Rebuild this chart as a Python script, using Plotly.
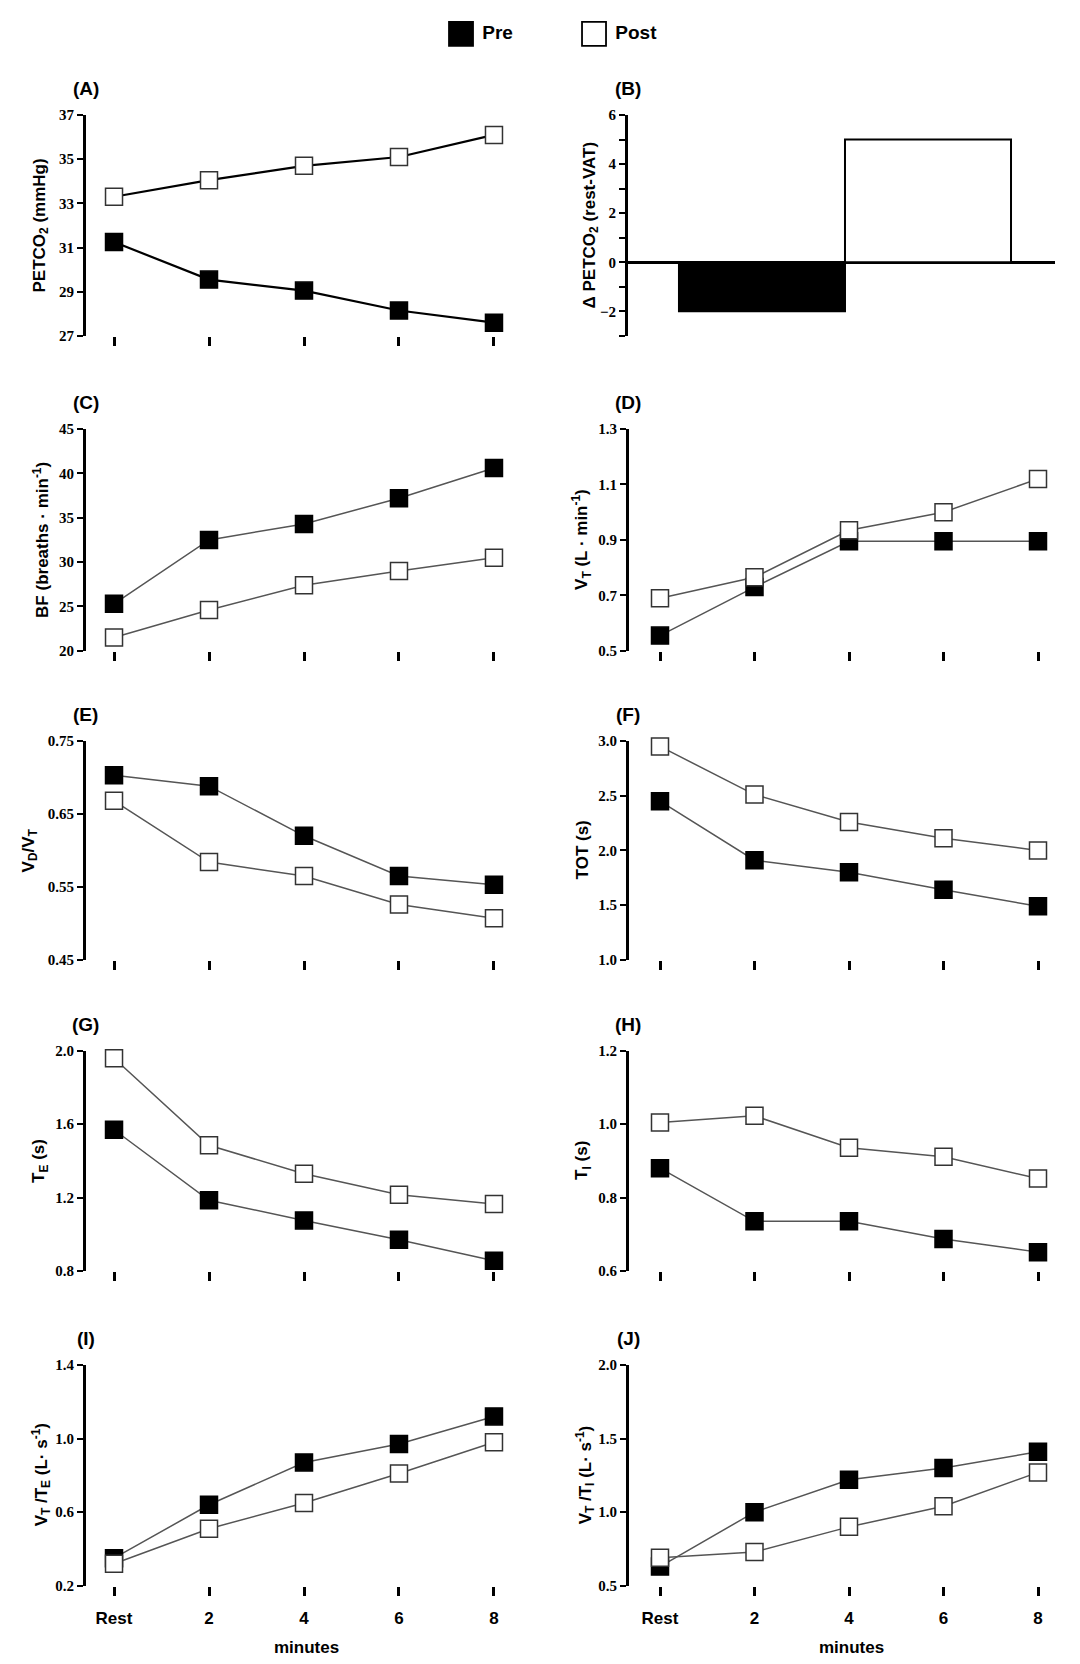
import plotly.graph_objects as go

# ---------------- data ----------------
categories = ["Rest", "2", "4", "6", "8"]
series_names = ["Pre", "Post"]

petco2_pre = [31.25, 29.55, 29.05, 28.15, 27.6]
petco2_post = [33.3, 34.05, 34.7, 35.1, 36.1]
delta_petco2 = [-2.0, 5.0]          # Pre, Post
bf_pre = [25.3, 32.5, 34.3, 37.2, 40.6]
bf_post = [21.5, 24.6, 27.4, 29.0, 30.5]
vt_pre = [0.555, 0.73, 0.895, 0.895, 0.895]
vt_post = [0.69, 0.765, 0.935, 1.0, 1.12]
vdvt_pre = [0.703, 0.688, 0.62, 0.565, 0.553]
vdvt_post = [0.668, 0.584, 0.565, 0.526, 0.507]
tot_pre = [2.45, 1.91, 1.80, 1.64, 1.49]
tot_post = [2.95, 2.51, 2.26, 2.11, 2.0]
te_pre = [1.57, 1.185, 1.075, 0.97, 0.855]
te_post = [1.96, 1.485, 1.33, 1.215, 1.165]
ti_pre = [0.88, 0.735, 0.735, 0.687, 0.651]
ti_post = [1.005, 1.023, 0.936, 0.911, 0.852]
vtte_pre = [0.35, 0.64, 0.87, 0.97, 1.12]
vtte_post = [0.32, 0.51, 0.65, 0.81, 0.98]
vtti_pre = [0.63, 1.0, 1.22, 1.30, 1.41]
vtti_post = [0.69, 0.73, 0.90, 1.04, 1.27]

# ---------------- layout helpers ----------------
W, H = 1080, 1664
SANS = "Liberation Sans, Arial, sans-serif"
SERIF = "Liberation Serif, Times New Roman, serif"

def px_x(p):
    return p / W

def px_y(p):
    return 1 - p / H

rows_px = [(100, 323), (417, 641), (732, 953), (1045, 1267), (1362, 1585)]
col_px = {0: (78, 514), 1: (621, 1061)}
col_xrange = {0: [-0.295, 4.295], 1: [-0.328, 4.328]}
ytitle_x = {"A": 33, "C": 33, "E": 22, "G": 32, "I": 33,
            "B": 583, "D": 574, "F": 574, "H": 575, "J": 577}

panels = [
    dict(lab="A", row=0, col=0, title="PETCO<sub>2</sub> (mmHg)", pre=petco2_pre, post=petco2_post,
         yr=[27, 37], dt=2, fmt="d", lc="#000000", lw=2.2),
    dict(lab="B", row=0, col=1, title="\u0394 PETCO<sub>2</sub> (rest-VAT)", bar=True),
    dict(lab="C", row=1, col=0, title="BF (breaths \u00b7 min<sup>-1</sup>)", pre=bf_pre, post=bf_post,
         yr=[20, 45], dt=5, fmt="d", lc="#555555", lw=1.5),
    dict(lab="D", row=1, col=1, title="V<sub>T</sub> (L \u00b7 min<sup>-1</sup>)", pre=vt_pre, post=vt_post,
         yr=[0.5, 1.3], dt=0.2, fmt=".1f", lc="#555555", lw=1.5),
    dict(lab="E", row=2, col=0, title="V<sub>D</sub>/V<sub>T</sub>", pre=vdvt_pre, post=vdvt_post,
         yr=[0.45, 0.75], dt=0.1, fmt=".2f", lc="#555555", lw=1.5),
    dict(lab="F", row=2, col=1, title="TOT (s)", pre=tot_pre, post=tot_post,
         yr=[1.0, 3.0], dt=0.5, fmt=".1f", lc="#555555", lw=1.5),
    dict(lab="G", row=3, col=0, title="T<sub>E</sub> (s)", pre=te_pre, post=te_post,
         yr=[0.8, 2.0], dt=0.4, fmt=".1f", lc="#555555", lw=1.5),
    dict(lab="H", row=3, col=1, title="T<sub>I</sub> (s)", pre=ti_pre, post=ti_post,
         yr=[0.6, 1.2], dt=0.2, fmt=".1f", lc="#555555", lw=1.5),
    dict(lab="I", row=4, col=0, title="V<sub>T</sub> /T<sub>E</sub> (L\u00b7 s<sup>-1</sup>)", pre=vtte_pre, post=vtte_post,
         yr=[0.2, 1.4], dt=0.4, fmt=".1f", lc="#555555", lw=1.5),
    dict(lab="J", row=4, col=1, title="V<sub>T</sub> /T<sub>I</sub> (L\u00b7 s<sup>-1</sup>)", pre=vtti_pre, post=vtti_post,
         yr=[0.5, 2.0], dt=0.5, fmt=".1f", lc="#555555", lw=1.5),
]

fig = go.Figure()
layout = dict(
    width=W, height=H, margin=dict(l=0, r=0, t=0, b=0),
    paper_bgcolor="white", plot_bgcolor="white", showlegend=False,
    font=dict(family=SANS, color="black"),
)
annotations = []

def ann(text, x, y, size, angle=0):
    return dict(text=text, xref="paper", yref="paper", x=x, y=y, showarrow=False,
                xanchor="center", yanchor="middle", textangle=angle,
                font=dict(family=SANS, size=size, color="black"))

for i, p in enumerate(panels, start=1):
    xa = "x" if i == 1 else f"x{i}"
    ya = "y" if i == 1 else f"y{i}"
    xkey = "xaxis" if i == 1 else f"xaxis{i}"
    ykey = "yaxis" if i == 1 else f"yaxis{i}"
    top, bot = rows_px[p["row"]]
    ydom = [px_y(bot), px_y(top)]

    if p.get("bar"):
        xdom = [px_x(620), px_x(1047)]
        fig.add_trace(go.Bar(
            x=series_names, y=delta_petco2, width=1.0, xaxis=xa, yaxis=ya,
            marker=dict(color=["black", "white"], line=dict(color="black", width=2)),
        ))
        layout[xkey] = dict(domain=xdom, anchor=ya, type="category", range=[-0.807, 1.765],
                            showline=False, showticklabels=False, ticks="", showgrid=False, zeroline=False)
        layout[ykey] = dict(domain=ydom, anchor=xa, range=[-3, 6], tickvals=[-2, 0, 2, 4, 6],
                            showline=True, linewidth=3, linecolor="black", ticks="outside", ticklen=6,
                            tickwidth=2, tickcolor="black", showgrid=False,
                            zeroline=True, zerolinecolor="black", zerolinewidth=2.5,
                            minor=dict(dtick=1, ticks="outside", ticklen=6, tickwidth=2, tickcolor="black", showgrid=False),
                            tickfont=dict(family=SERIF, size=15, weight="bold"))
    else:
        c0, c1 = col_px[p["col"]]
        xdom = [px_x(c0), px_x(c1)]
        for name, vals, fill in (("Pre", p["pre"], "black"), ("Post", p["post"], "white")):
            fig.add_trace(go.Scatter(
                x=categories, y=vals, mode="lines+markers", name=name, xaxis=xa, yaxis=ya,
                cliponaxis=False,
                line=dict(color=p["lc"], width=p["lw"]),
                marker=dict(symbol="square", size=17, color=fill,
                            line=dict(color="#333333" if fill == "white" else "black", width=1.5)),
            ))
        bottom_row = p["row"] == 4
        layout[xkey] = dict(domain=xdom, anchor=ya, type="category", range=col_xrange[p["col"]],
                            showline=False, ticks="outside", ticklen=9, tickwidth=3, tickcolor="black",
                            showgrid=False, zeroline=False, showticklabels=bottom_row,
                            ticklabelstandoff=8,
                            tickfont=dict(family=SANS, size=17, weight="bold"))
        layout[ykey] = dict(domain=ydom, anchor=xa, range=p["yr"], dtick=p["dt"], tick0=p["yr"][0],
                            tickformat=p["fmt"],
                            showline=True, linewidth=3, linecolor="black", ticks="outside", ticklen=6,
                            tickwidth=2, tickcolor="black", showgrid=False, zeroline=False,
                            tickfont=dict(family=SERIF, size=15, weight="bold"))
        if bottom_row:
            annotations.append(ann("<b>minutes</b>", px_x((c0 + c1) / 2 + 2), px_y(1647), 17))

    # panel label
    lab_x = 78 if p["col"] == 0 else 620
    annotations.append(ann(f"<b>({p['lab']})</b>", px_x(lab_x), px_y(top - 27), 19))
    # y-axis title
    annotations.append(ann(f"<b>{p['title']}</b>", px_x(ytitle_x[p["lab"]]),
                           (ydom[0] + ydom[1]) / 2, 17, angle=-90))

# ---------------- legend (Pre / Post) ----------------
li = len(panels) + 1
fig.add_trace(go.Scatter(
    x=series_names, y=[0, 0], mode="markers+text", xaxis=f"x{li}", yaxis=f"y{li}",
    text=[f"\u00a0<b>{n}</b>" for n in series_names], textposition="middle right",
    textfont=dict(family=SANS, size=19, color="black"), cliponaxis=False,
    marker=dict(symbol="square", size=24, color=["black", "white"], line=dict(color="black", width=1.8)),
))
layout[f"xaxis{li}"] = dict(domain=[0, 1], anchor=f"y{li}", type="category", range=[-3.406, 4.714],
                            visible=False)
layout[f"yaxis{li}"] = dict(domain=[px_y(36), 1], anchor=f"x{li}", range=[-1, 1], visible=False)

layout["annotations"] = annotations
fig.update_layout(**layout)
fig.write_html("out.html")
